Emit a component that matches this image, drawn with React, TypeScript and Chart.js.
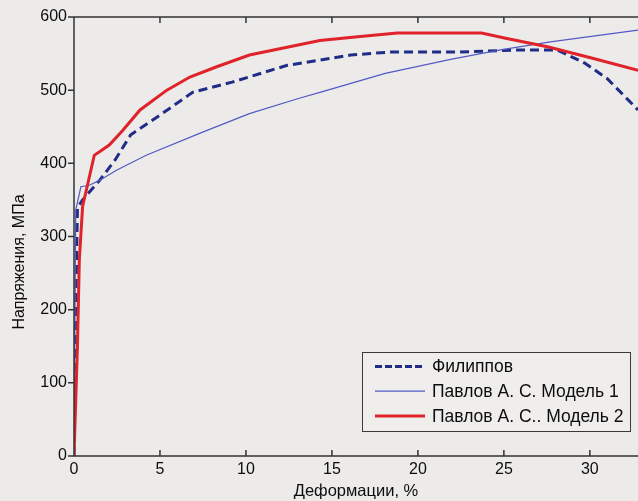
import React, { useEffect, useRef } from "react";
import { Chart, registerables } from "chart.js";

Chart.register(...registerables);

// ---- Data ----
const seriesNames = ["Филиппов", "Павлов А. С. Модель 1", "Павлов А. С.. Модель 2"];

const filippovX = [0, 0.1, 0.2, 0.5, 1.5, 2.4, 3.3, 5, 6.9, 9.2, 12.4, 14.3, 16.1, 18.3, 22.3, 25.8, 28.1, 29.7, 31, 32.8];
const filippovY = [0, 200, 339, 350, 377, 405, 439, 466, 497, 511, 534, 541, 548, 552, 552, 555, 555, 537, 516, 473];

const model1X = [0, 0.1, 0.4, 0.9, 1.5, 2.5, 4.2, 7.3, 10.2, 13.1, 14.3, 18.1, 21.9, 24.8, 27.7, 32.8];
const model1Y = [0, 336, 368, 370, 377, 391, 411, 441, 468, 489, 497, 523, 542, 555, 566, 582];

const model2X = [0, 0.2, 0.31, 0.5, 1.18, 2.05, 2.83, 3.84, 5.4, 6.74, 8.3, 10.2, 14.3, 16.5, 18.8, 23.7, 25.1, 27.6, 30.1, 32.8];
const model2Y = [0, 150, 268, 341, 411, 425, 445, 473, 500, 518, 532, 548, 568, 573, 578, 578, 571, 559, 544, 527];

const xTickValues = [0, 5, 10, 15, 20, 25, 30];
const yTickValues = [0, 100, 200, 300, 400, 500, 600];
const xTitle = "Деформации, %";
const yTitle = "Напряжения, МПа";

const BG = "#ecebea";
const AXIS = "#333333";
const TEXT = "#0d0d0d";
const FONT = "'Liberation Sans', Arial, sans-serif";

const toPoints = (xs: number[], ys: number[]) => xs.map((x, i) => ({ x, y: ys[i] }));

const colors = ["#1f2d86", "#5459c6", "#e0232a"];
const widths = [3, 1.2, 3];
const dashes: number[][] = [[9, 5], [], []];
const legendDashes: number[][] = [[7, 3], [], []];

export default function App() {
  const ref = useRef<HTMLCanvasElement | null>(null);

  useEffect(() => {
    if (!ref.current) return;

    const bgPlugin = {
      id: "bg",
      beforeDraw(chart: any) {
        const ctx = chart.ctx;
        ctx.save();
        ctx.fillStyle = BG;
        ctx.fillRect(0, 0, chart.width, chart.height);
        ctx.restore();
      },
    };

    const framePlugin = {
      id: "frame",
      afterDatasetsDraw(chart: any) {
        const ctx = chart.ctx;
        const { left, right, top, bottom } = chart.chartArea;
        const xs = chart.scales.x;
        const ys = chart.scales.y;
        ctx.save();
        ctx.strokeStyle = AXIS;
        ctx.lineWidth = 1.5;
        ctx.beginPath();
        ctx.moveTo(left, top);
        ctx.lineTo(right, top);
        ctx.moveTo(left, top);
        ctx.lineTo(left, bottom);
        ctx.lineTo(right, bottom);
        for (const v of xTickValues) {
          const px = xs.getPixelForValue(v);
          ctx.moveTo(px, bottom);
          ctx.lineTo(px, bottom - 6);
          ctx.moveTo(px, top);
          ctx.lineTo(px, top + 6);
        }
        for (const v of yTickValues) {
          const py = ys.getPixelForValue(v);
          ctx.moveTo(left, py);
          ctx.lineTo(left - 6, py);
        }
        ctx.stroke();

        // axis titles
        ctx.fillStyle = TEXT;
        ctx.textAlign = "center";
        ctx.textBaseline = "middle";
        ctx.font = `16.5px ${FONT}`;
        ctx.fillText(xTitle, (left + right) / 2, 491);
        ctx.font = `16px ${FONT}`;
        ctx.save();
        ctx.translate(20, 262);
        ctx.rotate(-Math.PI / 2);
        ctx.fillText(yTitle, 0, 0);
        ctx.restore();

        // legend
        const bx = 362, by = 352, bw = 268, bh = 79;
        ctx.fillStyle = "#efeeed";
        ctx.fillRect(bx, by, bw, bh);
        ctx.strokeStyle = "#3a3a3a";
        ctx.lineWidth = 1;
        ctx.strokeRect(bx + 0.5, by + 0.5, bw, bh);
        ctx.font = `17.5px ${FONT}`;
        ctx.textAlign = "left";
        chart.data.datasets.forEach((ds: any, i: number) => {
          const y = 366.5 + i * 24.7;
          ctx.save();
          ctx.strokeStyle = ds.borderColor;
          ctx.lineWidth = ds.borderWidth;
          ctx.setLineDash(legendDashes[i]);
          ctx.beginPath();
          ctx.moveTo(375, y);
          ctx.lineTo(425, y);
          ctx.stroke();
          ctx.restore();
          ctx.fillStyle = TEXT;
          ctx.fillText(ds.label, 432, y + 1);
        });
        ctx.restore();
      },
    };

    const datasets = [filippovX, model1X, model2X].map((xs, i) => ({
      label: seriesNames[i],
      data: toPoints(xs, [filippovY, model1Y, model2Y][i]),
      showLine: true,
      borderColor: colors[i],
      backgroundColor: colors[i],
      borderWidth: widths[i],
      borderDash: dashes[i],
      pointRadius: 0,
      tension: 0,
      fill: false,
      order: [2, 1, 0][i],
    }));

    const chart = new Chart(ref.current, {
      type: "scatter",
      data: { datasets },
      options: {
        animation: false,
        responsive: false,
        layout: { padding: { top: 17, right: 0, bottom: 0, left: 0 } },
        plugins: { legend: { display: false }, tooltip: { enabled: false } },
        scales: {
          x: {
            type: "linear",
            min: 0,
            max: 32.8,
            grid: { display: false, drawTicks: false },
            border: { display: false },
            ticks: { color: TEXT, font: { family: FONT, size: 16 }, padding: 4, maxRotation: 0 },
            afterBuildTicks: (s: any) => {
              s.ticks = xTickValues.map((v) => ({ value: v }));
            },
            afterFit: (s: any) => {
              s.height = 45;
            },
          },
          y: {
            type: "linear",
            min: 0,
            max: 600,
            grid: { display: false, drawTicks: false },
            border: { display: false },
            ticks: { color: TEXT, font: { family: FONT, size: 16 }, padding: 7 },
            afterBuildTicks: (s: any) => {
              s.ticks = yTickValues.map((v) => ({ value: v }));
            },
            afterFit: (s: any) => {
              s.width = 74;
            },
          },
        },
      },
      plugins: [bgPlugin, framePlugin],
    } as any);

    return () => chart.destroy();
  }, []);

  return (
    <div style={{ position: "absolute", left: 0, top: 0, width: 638, height: 501, background: BG }}>
      <canvas ref={ref} width={638} height={501} style={{ width: 638, height: 501, display: "block" }} />
    </div>
  );
}
